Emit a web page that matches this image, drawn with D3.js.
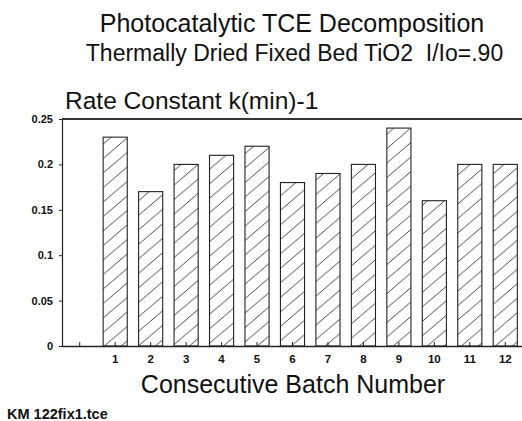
<!DOCTYPE html>
<html>
<head>
<meta charset="utf-8">
<script src="https://cdn.jsdelivr.net/npm/d3@7"></script>
<style>
  html, body { margin: 0; padding: 0; background: #fff; }
  svg { display: block; }
  text { font-family: "Liberation Sans", Arial, Helvetica, sans-serif; fill: #111; }
</style>
</head>
<body>
<svg id="chart" width="522" height="421"></svg>
<script>
// ---- data ----
const categories = ["1","2","3","4","5","6","7","8","9","10","11","12"];
const rateValues = [0.23, 0.17, 0.20, 0.21, 0.22, 0.18, 0.19, 0.20, 0.24, 0.16, 0.20, 0.20];
const yTickValues = [0, 0.05, 0.1, 0.15, 0.2, 0.25];
const yTickLabels = ["0", "0.05", "0.1", "0.15", "0.2", "0.25"];
const titleLines = ["Photocatalytic TCE Decomposition", "Thermally Dried Fixed Bed TiO2  I/Io=.90"];
const yTitle = "Rate Constant k(min)-1";
const xTitle = "Consecutive Batch Number";
const footNote = "KM 122fix1.tce";

// ---- layout ----
const svg = d3.select("#chart");
const plotLeft = 62, plotRight = 523, plotTop = 119, plotBottom = 346;

const xDomain = [""].concat(categories);
const x = d3.scaleBand().domain(xDomain).range([plotLeft, plotRight]).paddingInner(0.32).paddingOuter(0.16);
const y = d3.scaleLinear().domain([0, 0.25]).range([plotBottom, plotTop]);

// hatch pattern
const defs = svg.append("defs");
const pw = 17, ph = 14.5;
const pat = defs.append("pattern")
  .attr("id", "hatch")
  .attr("patternUnits", "userSpaceOnUse")
  .attr("width", pw).attr("height", ph);
pat.append("rect").attr("width", pw).attr("height", ph).attr("fill", "#fff");
pat.append("path")
  .attr("d", `M${-pw},${2*ph} L${2*pw},${-ph}`)
  .attr("stroke", "#333").attr("stroke-width", 0.9).attr("fill", "none");

// titles
svg.append("text").attr("x", 292).attr("y", 32).attr("text-anchor", "middle")
  .attr("font-size", 25).text(titleLines[0]);
svg.append("text").attr("x", 294.5).attr("y", 61).attr("text-anchor", "middle")
  .attr("font-size", 23)
  .attr("xml:space", "preserve").style("white-space", "pre").text(titleLines[1]);
svg.append("text").attr("x", 65).attr("y", 108.5).attr("font-size", 24.5).text(yTitle);

// bars
svg.append("g").selectAll("rect").data(rateValues).join("rect")
  .attr("x", (d, i) => x(categories[i]))
  .attr("y", d => y(d))
  .attr("width", x.bandwidth())
  .attr("height", d => y(0) - y(d))
  .attr("fill", "url(#hatch)")
  .attr("stroke", "#222").attr("stroke-width", 1.1);

// y axis
const yAxis = d3.axisLeft(y).tickValues(yTickValues)
  .tickFormat((d, i) => yTickLabels[i]).tickSize(3).tickPadding(6);
const gy = svg.append("g").attr("transform", `translate(${plotLeft},0)`).call(yAxis);
gy.select(".domain").attr("stroke", "#222").attr("stroke-width", 1.2);
gy.selectAll(".tick line").attr("stroke", "#222");
gy.selectAll(".tick text").attr("font-size", 11).attr("font-weight", "bold")
  .attr("font-family", "Liberation Sans, Arial, sans-serif").attr("fill", "#111");

// x axis
const xAxis = d3.axisBottom(x).tickSizeInner(-4).tickSizeOuter(0).tickPadding(9);
const gx = svg.append("g").attr("transform", `translate(0,${plotBottom})`).call(xAxis);
gx.select(".domain").attr("stroke", "#222").attr("stroke-width", 1.4);
gx.selectAll(".tick line").attr("stroke", "#222");
gx.selectAll(".tick text").attr("font-size", 11.5).attr("font-weight", "bold")
  .attr("font-family", "Liberation Sans, Arial, sans-serif").attr("fill", "#111");

// top frame line
svg.append("line").attr("x1", plotLeft).attr("x2", plotRight).attr("y1", plotTop).attr("y2", plotTop)
  .attr("stroke", "#333").attr("stroke-width", 2);

// x title and footnote
svg.append("text").attr("x", 293).attr("y", 393).attr("text-anchor", "middle")
  .attr("font-size", 25).text(xTitle);
svg.append("text").attr("x", 7).attr("y", 419).attr("font-size", 14.5).attr("font-weight", "bold")
  .text(footNote);
</script>
</body>
</html>
